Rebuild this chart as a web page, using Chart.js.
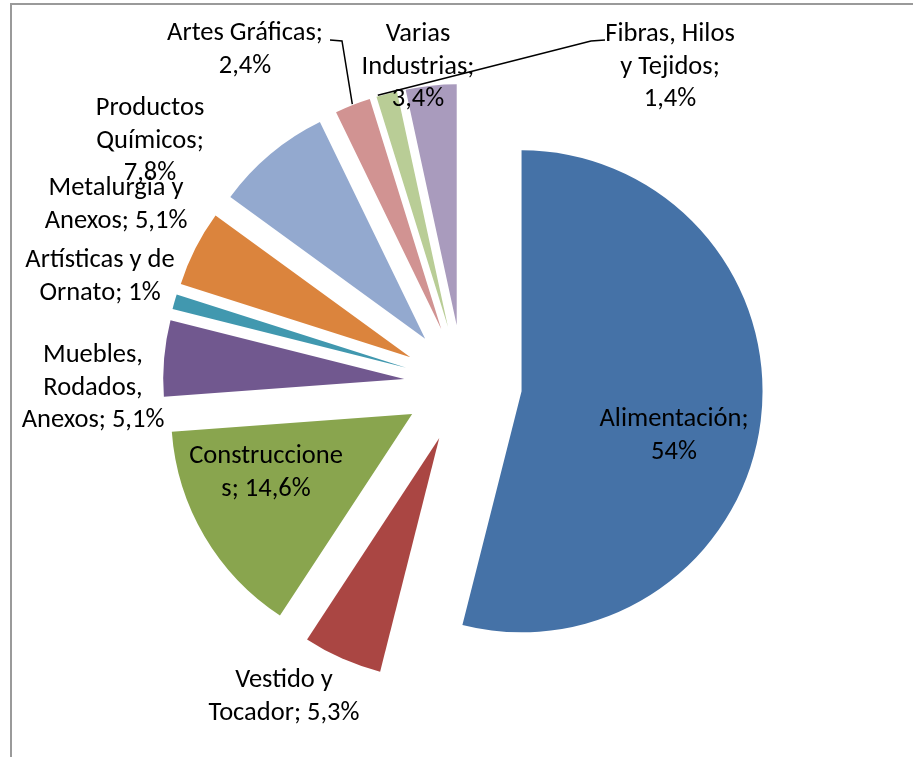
<!DOCTYPE html>
<html><head><meta charset="utf-8">
<script src="https://cdn.jsdelivr.net/npm/chart.js@4.4.1/dist/chart.umd.min.js"></script>
<style>html,body{margin:0;padding:0;background:#fff;overflow:hidden;}</style>
</head><body>
<canvas id="c" width="913" height="757"></canvas>
<script>
// ---- data ----
const categories = ['Alimentación','Vestido y Tocador','Construcciones','Muebles, Rodados, Anexos','Artísticas y de Ornato','Metalurgia y Anexos','Productos Químicos','Artes Gráficas','Fibras, Hilos y Tejidos','Varias Industrias'];
const values = [54, 5.3, 14.6, 5.1, 1, 5.1, 7.8, 2.4, 1.4, 3.4];
const valueLabels = ['54%','5,3%','14,6%','5,1%','1%','5,1%','7,8%','2,4%','1,4%','3,4%'];
// label text as wrapped in the original
const labelLines = [
  ['Alimentación;','54%'],
  ['Vestido y','Tocador; 5,3%'],
  ['Construccione','s; 14,6%'],
  ['Muebles,','Rodados,','Anexos; 5,1%'],
  ['Artísticas y de','Ornato; 1%'],
  ['Metalurgia y','Anexos; 5,1%'],
  ['Productos','Químicos;','7,8%'],
  ['Artes Gráficas;','2,4%'],
  ['Fibras, Hilos','y Tejidos;','1,4%'],
  ['Varias','Industrias;','3,4%']
];
const colors = ['#4572A7','#AA4643','#89A54E','#71588F','#4198AF','#DB843D','#93A9CF','#D19392','#B9CD96','#A99BBD'];

// ---- layout (label placement relative to pie centre) ----
const EXPLODE = 59;
const labelOffsets = [[211,52],[-179,313],[-197,89],[-370,4],[-363,-107],[-347,-179],[-313,-243],[-218,-334],[207,-317],[-45,-317]];
const leaders = {
  7: {pts: [[-133,-344],[-121,-343]], f: 0.5},
  8: {pts: [[142,-344],[128,-343]], f: 0.08}
};
const FONT = '26.5px Carlito, Lato, "Noto Sans", sans-serif';
const LINE_H = 32.5;

const explodePlugin = {
  id: 'explode',
  afterDatasetUpdate(chart, args) {
    const meta = chart.getDatasetMeta(args.index);
    meta.data.forEach(arc => {
      const mid = (arc.startAngle + arc.endAngle) / 2;
      arc.baseX = arc.x; arc.baseY = arc.y;
      arc.x = arc.baseX + Math.cos(mid) * EXPLODE;
      arc.y = arc.baseY + Math.sin(mid) * EXPLODE;
    });
  }
};

const framePlugin = {
  id: 'frame',
  beforeDraw(chart) {
    const ctx = chart.ctx;
    ctx.save();
    ctx.fillStyle = '#fff';
    ctx.fillRect(0, 0, chart.width, chart.height);
    ctx.strokeStyle = '#9a9a9a';
    ctx.lineWidth = 2;
    ctx.beginPath();
    ctx.moveTo(11, chart.height);
    ctx.lineTo(11, 4);
    ctx.lineTo(chart.width, 4);
    ctx.stroke();
    ctx.restore();
  }
};

const labelPlugin = {
  id: 'labels',
  afterDraw(chart) {
    const ctx = chart.ctx;
    const meta = chart.getDatasetMeta(0);
    const cx = meta.data[0].baseX, cy = meta.data[0].baseY;
    ctx.save();
    // leader lines
    ctx.strokeStyle = '#000';
    ctx.lineWidth = 1.5;
    Object.keys(leaders).forEach(k => {
      const arc = meta.data[k];
      const L = leaders[k];
      const a = arc.startAngle + L.f * (arc.endAngle - arc.startAngle);
      const r = arc.outerRadius + 1;
      ctx.beginPath();
      ctx.moveTo(cx + L.pts[0][0], cy + L.pts[0][1]);
      for (let i = 1; i < L.pts.length; i++) ctx.lineTo(cx + L.pts[i][0], cy + L.pts[i][1]);
      ctx.lineTo(arc.x + Math.cos(a) * r, arc.y + Math.sin(a) * r);
      ctx.stroke();
    });
    ctx.font = FONT;
    ctx.fillStyle = '#000';
    ctx.textAlign = 'center';
    ctx.textBaseline = 'middle';
    labelLines.forEach((lines, i) => {
      const x = cx + labelOffsets[i][0];
      const y0 = cy + labelOffsets[i][1] - (lines.length - 1) * LINE_H / 2;
      lines.forEach((t, j) => ctx.fillText(t, x, y0 + j * LINE_H));
    });
    ctx.restore();
  }
};

new Chart(document.getElementById('c'), {
  type: 'pie',
  data: {
    labels: categories,
    datasets: [{
      data: values,
      backgroundColor: colors,
      borderWidth: 0
    }]
  },
  options: {
    responsive: false,
    animation: false,
    events: [],
    radius: 241,
    layout: { padding: { left: 13, top: 11, right: 0, bottom: 0 } },
    plugins: { legend: { display: false }, tooltip: { enabled: false } }
  },
  plugins: [framePlugin, explodePlugin, labelPlugin]
});
</script>
</body></html>
